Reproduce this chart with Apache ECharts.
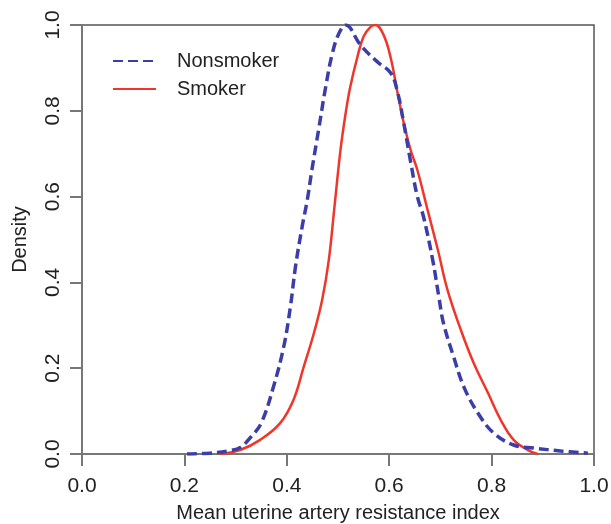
<!DOCTYPE html>
<html><head><meta charset="utf-8">
<script src="https://cdn.jsdelivr.net/npm/echarts@6/dist/echarts.min.js"></script>
<style>html,body{margin:0;padding:0;background:#fff}#c{width:611px;height:524px}</style>
</head><body><div id="c"></div>
<script>
const xTicks = [0.0, 0.2, 0.4, 0.6, 0.8, 1.0];
const yTicks = [0.0, 0.2, 0.4, 0.6, 0.8, 1.0];
const nonsmokerX = [0.205,0.25,0.29,0.31,0.33,0.35,0.374,0.394,0.407,0.417,0.43,0.44,0.449,0.462,0.476,0.489,0.502,0.515,0.544,0.577,0.603,0.616,0.628,0.642,0.655,0.667,0.685,0.697,0.706,0.726,0.746,0.773,0.804,0.843,0.882,0.935,0.988];
const nonsmokerY = [0,0.002,0.008,0.016,0.04,0.072,0.157,0.25,0.343,0.437,0.53,0.592,0.662,0.755,0.856,0.934,0.981,1.0,0.953,0.914,0.888,0.845,0.774,0.68,0.60,0.553,0.452,0.366,0.305,0.226,0.156,0.096,0.049,0.021,0.014,0.007,0.002];
const smokerX = [0.27,0.31,0.348,0.387,0.413,0.433,0.453,0.469,0.482,0.493,0.505,0.515,0.524,0.538,0.55,0.564,0.573,0.589,0.603,0.616,0.628,0.642,0.655,0.675,0.695,0.714,0.74,0.765,0.793,0.818,0.843,0.871,0.89];
const smokerY = [0,0.01,0.033,0.072,0.126,0.203,0.282,0.359,0.452,0.575,0.71,0.795,0.856,0.926,0.973,0.996,1.0,0.977,0.923,0.844,0.774,0.708,0.662,0.569,0.476,0.382,0.289,0.212,0.142,0.079,0.033,0.009,0.0];
const names = ['Nonsmoker','Smoker'];

const font = '"Liberation Sans", Arial, sans-serif';
const chart = echarts.init(document.getElementById('c'), null, {renderer:'canvas'});
chart.setOption({
  animation:false,
  grid:{left:82, top:25, right:17, bottom:70, outerBoundsMode:'none', containLabel:false, show:true, borderColor:'#555', borderWidth:1.5, backgroundColor:'transparent'},
  legend:{
    orient:'vertical', left:112, top:51, padding:0, itemWidth:43, itemHeight:14, itemGap:8,
    itemStyle:{opacity:0},
    textStyle:{fontFamily:font, fontSize:20, color:'#222', padding:[0,0,0,16], lineHeight:20},
    data:names
  },
  xAxis:{
    type:'value', min:0, max:1, interval:0.2,
    axisLine:{show:true, onZero:false, lineStyle:{color:'#777', width:2}},
    axisTick:{show:true, inside:false, length:12, lineStyle:{color:'#777', width:2}},
    splitLine:{show:false},
    axisLabel:{fontFamily:font, fontSize:21, color:'#222', margin:22, formatter:v=>v.toFixed(1)},
    name:'Mean uterine artery resistance index', nameLocation:'middle', nameGap:49,
    nameTextStyle:{fontFamily:font, fontSize:20, color:'#222'}
  },
  yAxis:{
    type:'value', min:0, max:1, interval:0.2,
    axisLine:{show:true, lineStyle:{color:'#777', width:2}},
    axisTick:{show:true, length:12, lineStyle:{color:'#777', width:2}},
    splitLine:{show:false},
    axisLabel:{fontFamily:font, fontSize:21, color:'#222', rotate:90, margin:18, formatter:v=>v.toFixed(1)},
    name:'Density', nameLocation:'middle', nameGap:52,
    nameTextStyle:{fontFamily:font, fontSize:20, color:'#222'}
  },
  series:[
    {name:names[0], type:'line', smooth:0.4, showSymbol:false, symbol:'none',
     data:nonsmokerX.map((x,i)=>[x,nonsmokerY[i]]),
     lineStyle:{color:'#3b3ea6', width:3.5, type:[10,5]}, itemStyle:{color:'#3b3ea6'}, z:3},
    {name:names[1], type:'line', smooth:0.4, showSymbol:false, symbol:'none',
     data:smokerX.map((x,i)=>[x,smokerY[i]]),
     lineStyle:{color:'#f0362a', width:2.5}, itemStyle:{color:'#f0362a'}, z:2}
  ]
});
</script></body></html>
